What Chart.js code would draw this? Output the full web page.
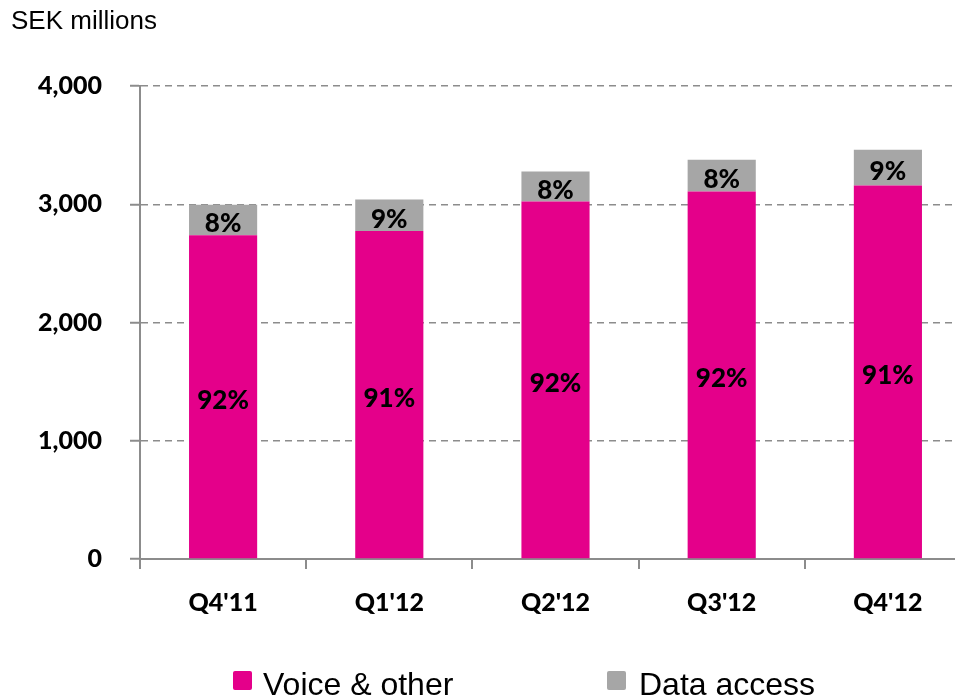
<!DOCTYPE html>
<html>
<head>
<meta charset="utf-8">
<script src="https://cdn.jsdelivr.net/npm/chart.js@4.4.1/dist/chart.umd.min.js"></script>
<style>
  html, body { margin: 0; padding: 0; background: #fff; overflow: hidden; }
  #wrap { width: 975px; height: 698px; }
</style>
</head>
<body>
<div id="wrap"><canvas id="chart" width="975" height="698"></canvas></div>
<script>
// quarters and revenue split, SEK millions
const quarters = ["Q4'11", "Q1'12", "Q2'12", "Q3'12", "Q4'12"];
const voiceOther = [2737, 2773, 3024, 3108, 3159];
const dataAccess = [259, 268, 253, 268, 301];
const voicePct = ['92%', '91%', '92%', '92%', '91%'];
const dataPct = ['8%', '9%', '8%', '8%', '9%'];
const yTicks = [0, 1000, 2000, 3000, 4000];

const PINK = '#e4008a';
const GREY = '#a6a6a6';
const AXIS = '#8c8c8c';
const BOLD = 'Lato, "DejaVu Sans", sans-serif';
const ARIAL = '"Liberation Sans", Arial, sans-serif';

// percentage labels inside each bar segment
const segmentLabels = {
  id: 'segmentLabels',
  afterDatasetsDraw(chart) {
    const ctx = chart.ctx;
    const texts = [voicePct, dataPct];
    ctx.save();
    ctx.font = '900 26px ' + BOLD;
    ctx.fillStyle = '#000';
    ctx.textAlign = 'center';
    ctx.textBaseline = 'middle';
    chart.data.datasets.forEach((ds, i) => {
      chart.getDatasetMeta(i).data.forEach((bar, j) => {
        ctx.fillText(texts[i][j], bar.x, (bar.y + bar.base) / 2 + 4);
      });
    });
    ctx.restore();
  }
};

// unit caption top-left and the legend row at the bottom
const decorations = {
  id: 'decorations',
  afterDraw(chart) {
    const ctx = chart.ctx;
    ctx.save();
    ctx.fillStyle = '#000';
    ctx.textAlign = 'left';
    ctx.textBaseline = 'alphabetic';
    ctx.font = '26px ' + ARIAL;
    ctx.fillText('SEK millions', 11, 29);

    const items = [{x: 233, tx: 263}, {x: 607, tx: 639}];
    ctx.font = '32px ' + ARIAL;
    chart.data.datasets.forEach((ds, i) => {
      ctx.fillStyle = ds.backgroundColor;
      ctx.beginPath();
      ctx.roundRect(items[i].x, 671, 19, 19, 2);
      ctx.fill();
      ctx.fillStyle = '#000';
      ctx.fillText(ds.label, items[i].tx, 695);
    });
    ctx.restore();
  }
};

new Chart(document.getElementById('chart'), {
  type: 'bar',
  data: {
    labels: quarters,
    datasets: [
      { label: 'Voice & other', data: voiceOther, backgroundColor: PINK },
      { label: 'Data access', data: dataAccess, backgroundColor: GREY }
    ]
  },
  options: {
    responsive: false,
    animation: false,
    devicePixelRatio: 1,
    layout: { padding: { top: 86, right: 4, bottom: 0, left: 0 } },
    datasets: { bar: { barPercentage: 0.41, categoryPercentage: 1 } },
    plugins: {
      legend: { display: false },
      title: { display: false },
      tooltip: { enabled: false }
    },
    scales: {
      x: {
        stacked: true,
        afterFit(scale) { scale.height = 139; },
        grid: {
          offset: true,
          drawOnChartArea: false,
          drawTicks: true,
          tickLength: 10,
          color: AXIS,
          lineWidth: 2
        },
        border: { color: AXIS, width: 2 },
        ticks: {
          color: '#000',
          padding: 19,
          font: { family: BOLD, size: 25, weight: 900 }
        }
      },
      y: {
        stacked: true,
        min: 0,
        max: 4000,
        afterFit(scale) { scale.width = 140; },
        afterBuildTicks(scale) { scale.ticks = yTicks.map(v => ({ value: v })); },
        grid: {
          color: AXIS,
          lineWidth: 1.5,
          tickLength: 10,
          tickBorderDash: [],
          tickWidth: 2
        },
        border: { color: AXIS, width: 2, dash: [7, 5] },
        ticks: {
          color: '#000',
          padding: 28,
          font: { family: BOLD, size: 25, weight: 900 },
          callback: v => v.toLocaleString('en-US')
        }
      }
    }
  },
  plugins: [segmentLabels, decorations]
});
</script>
</body>
</html>
